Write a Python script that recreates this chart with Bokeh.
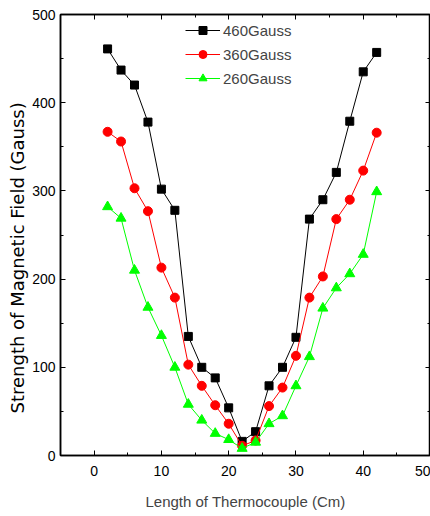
from bokeh.plotting import figure
from bokeh.models import LinearAxis, Range1d, Legend, CustomJSTickFormatter, Title
from bokeh.embed import file_html
from bokeh.resources import INLINE

# Thermocouple position along the sample (cm)
length_cm = [2, 4, 6, 8, 10, 12, 14, 16, 18, 20, 22, 24, 26, 28, 30, 32, 34, 36, 38, 40, 42]

# Measured field strength (Gauss) for three applied fields
field_460 = [461, 437, 420, 378, 302, 278, 135, 100, 88, 54, 16, 27, 79, 100, 134, 268, 290, 321, 379, 435, 457]
field_360 = [367, 356, 303, 277, 213, 179, 103, 79, 57, 36, 11, 17, 56, 77, 113, 179, 203, 268, 290, 323, 366]
field_260 = [282, 269, 210, 168, 136, 100, 58, 40, 25, 18, 8, 15, 36, 45, 79, 112, 167, 190, 206, 228, 299]

series_labels = ["460Gauss", "360Gauss", "260Gauss"]
x_title = "Length of Thermocouple (Cm)"
y_title = "Strength of Magnetic Field (Gauss)"

SANS = "Liberation Sans"

p = figure(width=430, height=516, output_backend="svg", toolbar_location=None,
           x_range=Range1d(-5, 50), y_range=Range1d(0, 500),
           min_border_left=60, min_border_right=0, min_border_top=14, min_border_bottom=61)
p.xgrid.visible = False
p.ygrid.visible = False
p.outline_line_color = "black"
p.outline_line_width = 1.5
p.background_fill_color = "white"
p.border_fill_color = "white"

def style_axis(ax, labels=True):
    ax.axis_line_width = 1.5
    ax.major_tick_in = 5
    ax.major_tick_out = 0
    ax.minor_tick_in = 3
    ax.minor_tick_out = 0
    ax.major_tick_line_width = 1
    ax.minor_tick_line_width = 1
    ax.ticker.num_minor_ticks = 2
    if labels:
        ax.major_label_text_font = SANS
        ax.major_label_text_font_size = "14px"
        ax.major_label_text_color = "black"
    else:
        # frame-side axes carry ticks only
        ax.formatter = CustomJSTickFormatter(code="return ''")
        ax.major_label_standoff = 0

p.xaxis.ticker.desired_num_ticks = 6
style_axis(p.xaxis[0])
style_axis(p.yaxis[0])
p.xaxis.major_label_standoff = 10
p.yaxis.major_label_standoff = 5

p.xaxis.axis_label = x_title
p.xaxis.axis_label_text_font = SANS
p.xaxis.axis_label_text_font_size = "15px"
p.xaxis.axis_label_text_font_style = "normal"
p.xaxis.axis_label_standoff = 14

top_ax = LinearAxis()
right_ax = LinearAxis()
p.add_layout(top_ax, "above")
p.add_layout(right_ax, "right")
style_axis(top_ax, labels=False)
style_axis(right_ax, labels=False)

# vertical axis title, placed as a side title so it can sit a little low
p.add_layout(Title(text=y_title, text_font="DejaVu Sans", text_font_size="18px",
                   text_font_style="normal", text_color="black",
                   align="left", offset=42, standoff=4), "left")

r1 = p.line(length_cm, field_460, line_color="black", line_width=1)
m1 = p.scatter(length_cm, field_460, marker="square", size=8, fill_color="black", line_color="black")
r2 = p.line(length_cm, field_360, line_color="#ff0000", line_width=1)
m2 = p.scatter(length_cm, field_360, marker="circle", size=9, fill_color="#ff0000", line_color="#ff0000")
r3 = p.line(length_cm, field_260, line_color="#00ff00", line_width=1)
m3 = p.scatter(length_cm, field_260, marker="triangle", size=10, fill_color="#00ff00", line_color="#00ff00")

legend = Legend(items=[(series_labels[0], [r1, m1]),
                       (series_labels[1], [r2, m2]),
                       (series_labels[2], [r3, m3])],
                location=(125, 367))
legend.border_line_color = None
legend.background_fill_alpha = 0
legend.padding = 0
legend.spacing = 4
legend.glyph_width = 35
legend.glyph_height = 20
legend.label_height = 20
legend.label_standoff = 3
legend.label_text_font = SANS
legend.label_text_font_size = "15px"
p.add_layout(legend, "center")

open("out.html", "w").write(file_html(p, INLINE))
